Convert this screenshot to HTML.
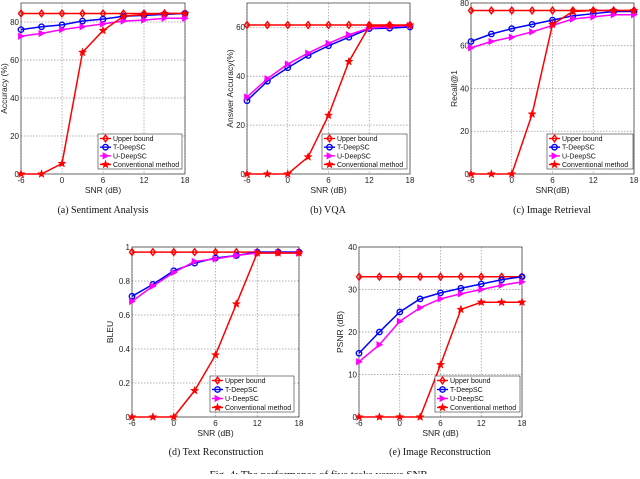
<!DOCTYPE html>
<html><head><meta charset="utf-8"><style>
body{margin:0;background:#fff;width:640px;height:474px;overflow:hidden;font-family:"Liberation Sans",sans-serif}
svg text{font-family:"Liberation Sans",sans-serif}
.cap{font-family:"Liberation Serif",serif}
</style></head><body>
<svg id="s" width="640" height="474" xmlns="http://www.w3.org/2000/svg"></svg>
<script>
const snr=[-6,-3,0,3,6,9,12,15,18];
const xTicks=[-6,0,6,12,18];
const seriesNames=["Upper bound","T-DeepSC","U-DeepSC","Conventional method"];
const aUpper=[84.5,84.5,84.5,84.5,84.5,84.5,84.5,84.5,84.5];
const aT=[76,77.5,78.5,80.5,81.5,83,83.5,84,84.5];
const aU=[72.5,74,76,77.5,79,80.5,81,82,82];
const aC=[0,0,5.5,64,75.5,83,84,84.5,84.5];
const bUpper=[61,61,61,61,61,61,61,61,61];
const bT=[30,38,43.5,48.5,52.5,56,59.5,59.7,60.2];
const bU=[31.5,39,45,49.5,53.5,57,59.7,60.3,60.8];
const bC=[0,0,0,7,24,46,60.5,60.7,61];
const cUpper=[76.5,76.5,76.5,76.5,76.5,76.5,76.5,76.5,76.5];
const cT=[62,65.5,68,70,72,74,75,76,76];
const cU=[59,62,64,66.5,69.5,72.5,73.5,74.5,74.5];
const cC=[0,0,0,28,70,76,76.5,76.5,76.5];
const dUpper=[0.97,0.97,0.97,0.97,0.97,0.97,0.97,0.97,0.97];
const dT=[0.71,0.78,0.86,0.905,0.935,0.95,0.97,0.97,0.97];
const dU=[0.68,0.77,0.85,0.915,0.93,0.95,0.965,0.965,0.965];
const dC=[0,0,0,0.155,0.365,0.665,0.965,0.965,0.965];
const eUpper=[33,33,33,33,33,33,33,33,33];
const eT=[15,20,24.7,27.8,29.2,30.3,31.3,32.3,33];
const eU=[13,17,22.5,25.7,27.8,29,30,31,31.8];
const eC=[0,0,0,0,12.3,25.3,27,27,27];
const aYTicks=[0,20,40,60,80], bYTicks=[0,20,40,60], cYTicks=[0,20,40,60,80];
const dYTicks=[0,0.2,0.4,0.6,0.8,1], eYTicks=[0,10,20,30,40];

const NS="http://www.w3.org/2000/svg", S=document.getElementById('s');
function mk(t,a,p){const e=document.createElementNS(NS,t);for(const k in a)e.setAttribute(k,a[k]);(p||S).appendChild(e);return e;}
function marker(g,type,x,y,col){
  let e;
  if(type==0)e=mk('path',{d:`M${x} ${y-3.3}L${x+2.5} ${y}L${x} ${y+3.3}L${x-2.5} ${y}Z`,fill:'none',stroke:col,'stroke-width':1.4},g);
  else if(type==1)e=mk('circle',{cx:x,cy:y,r:2.7,fill:'none',stroke:col,'stroke-width':1.4},g);
  else if(type==2)e=mk('path',{d:`M${x-2.5} ${y-3}L${x+3} ${y}L${x-2.5} ${y+3}Z`,fill:col,stroke:col,'stroke-width':0.8},g);
  else{let p='';for(let i=0;i<10;i++){const r=i%2?1.7:4.2,a=-Math.PI/2+i*Math.PI/5;p+=(i?'L':'M')+(x+r*Math.cos(a)).toFixed(2)+' '+(y+r*Math.sin(a)).toFixed(2);}e=mk('path',{d:p+'Z',fill:col,stroke:col,'stroke-width':0.5},g);}
  return e;
}
const cols=['#ff0000','#0000ff','#ff00ff','#ff0000'];
const lcols=['#ff0000','#0000ff','#ff00ff','#ff0000'];
function chart(o){
  const g=mk('g',{});
  
  
  const {L,R,T,B,ymax}=o;
  const X=v=>L+(v+6)/24*(R-L), Y=v=>B-v/ymax*(B-T);
  mk('rect',{x:L,y:T,width:R-L,height:B-T,fill:'#fff'},g);
  for(const t of xTicks){mk('line',{x1:X(t),x2:X(t),y1:T,y2:B,stroke:'#999','stroke-width':0.7,'stroke-dasharray':'1.5 1.5'},g);
    const tx=mk('text',{x:X(t),y:B+9,'font-size':8,'text-anchor':'middle',fill:'#222'},g);tx.textContent=t;}
  for(const t of o.yt){mk('line',{x1:L,x2:R,y1:Y(t),y2:Y(t),stroke:'#999','stroke-width':0.7,'stroke-dasharray':'1.5 1.5'},g);
    const ty=mk('text',{x:L-2,y:Y(t)+2.8,'font-size':8,'text-anchor':'end',fill:'#222'},g);ty.textContent=t;}
  mk('rect',{x:L,y:T,width:R-L,height:B-T,fill:'none',stroke:'#333','stroke-width':0.7},g);
  const xl=mk('text',{x:(L+R)/2,y:B+19,'font-size':8.5,'text-anchor':'middle',fill:'#222'},g);xl.textContent=o.xlab;
  
  const yl=mk('text',{x:0,y:0,'font-size':8.5,'text-anchor':'middle',fill:'#222',transform:`translate(${L-o.ylo},${(T+B)/2}) rotate(-90)`},g);yl.textContent=o.ylab;
  
  o.series.forEach((d,si)=>{
    const sg=mk('g',{},g);
    
    
    mk('polyline',{points:d.map((v,i)=>X(snr[i])+','+Y(v)).join(' '),fill:'none',stroke:lcols[si],'stroke-width':1.5},sg);
    d.forEach((v,i)=>marker(sg,si,X(snr[i]),Y(v),cols[si]));
  });
  const lg=mk('g',{},g);
  
  
  const [lx,ly,lw,lh]=o.leg;
  mk('rect',{x:lx,y:ly,width:lw,height:lh,fill:'#fff',stroke:'#333','stroke-width':0.6},lg);
  seriesNames.forEach((n,i)=>{
    const yy=ly+4.5+i*(lh-9)/3;
    mk('line',{x1:lx+2,x2:lx+13,y1:yy,y2:yy,stroke:lcols[i],'stroke-width':1.4},lg);
    marker(lg,i,lx+7.5,yy,cols[i]);
    const t=mk('text',{x:lx+15,y:yy+2.5,'font-size':7,fill:'#111'},lg);t.textContent=n;
  });
  const c=mk('text',{x:o.capx,y:o.capy,'font-size':10,'text-anchor':'middle',fill:'#111',class:'cap'},g);c.textContent=o.cap;
  
}
chart({name:'chart-sentiment-analysis',L:21,R:185,T:3,B:174,ymax:90,yt:aYTicks,series:[aUpper,aT,aU,aC],xlab:'SNR (dB)',ylab:'Accuracy (%)',ylo:14,leg:[98,134,84,35],cap:'(a) Sentiment Analysis',capx:103,capy:213});
chart({name:'chart-vqa',L:247,R:410,T:3,B:174,ymax:70,yt:bYTicks,series:[bUpper,bT,bU,bC],xlab:'SNR (dB)',ylab:'Answer Accuracy(%)',ylo:14,leg:[322,134,85,35],cap:'(b) VQA',capx:328,capy:213});
chart({name:'chart-image-retrieval',L:471,R:634,T:3,B:174,ymax:80,yt:cYTicks,series:[cUpper,cT,cU,cC],xlab:'SNR(dB)',ylab:'Recall@1',ylo:14,leg:[547,134,86,35],cap:'(c) Image Retrieval',capx:552,capy:213});
chart({name:'chart-text-reconstruction',L:132,R:299,T:247,B:417,ymax:1,yt:dYTicks,series:[dUpper,dT,dU,dC],xlab:'SNR (dB)',ylab:'BLEU',ylo:19,leg:[210,376,84,36],cap:'(d) Text Reconstruction',capx:216,capy:455});
chart({name:'chart-image-reconstruction',L:359,R:522,T:247,B:417,ymax:40,yt:eYTicks,series:[eUpper,eT,eU,eC],xlab:'SNR (dB)',ylab:'PSNR (dB)',ylo:16,leg:[435,376,85,36],cap:'(e) Image Reconstruction',capx:440,capy:455});
const f=mk('text',{x:320,y:478,'font-size':11,'text-anchor':'middle',fill:'#111',class:'cap'});
f.textContent='Fig. 4: The performance of five tasks versus SNR.';


</script>
</body></html>
